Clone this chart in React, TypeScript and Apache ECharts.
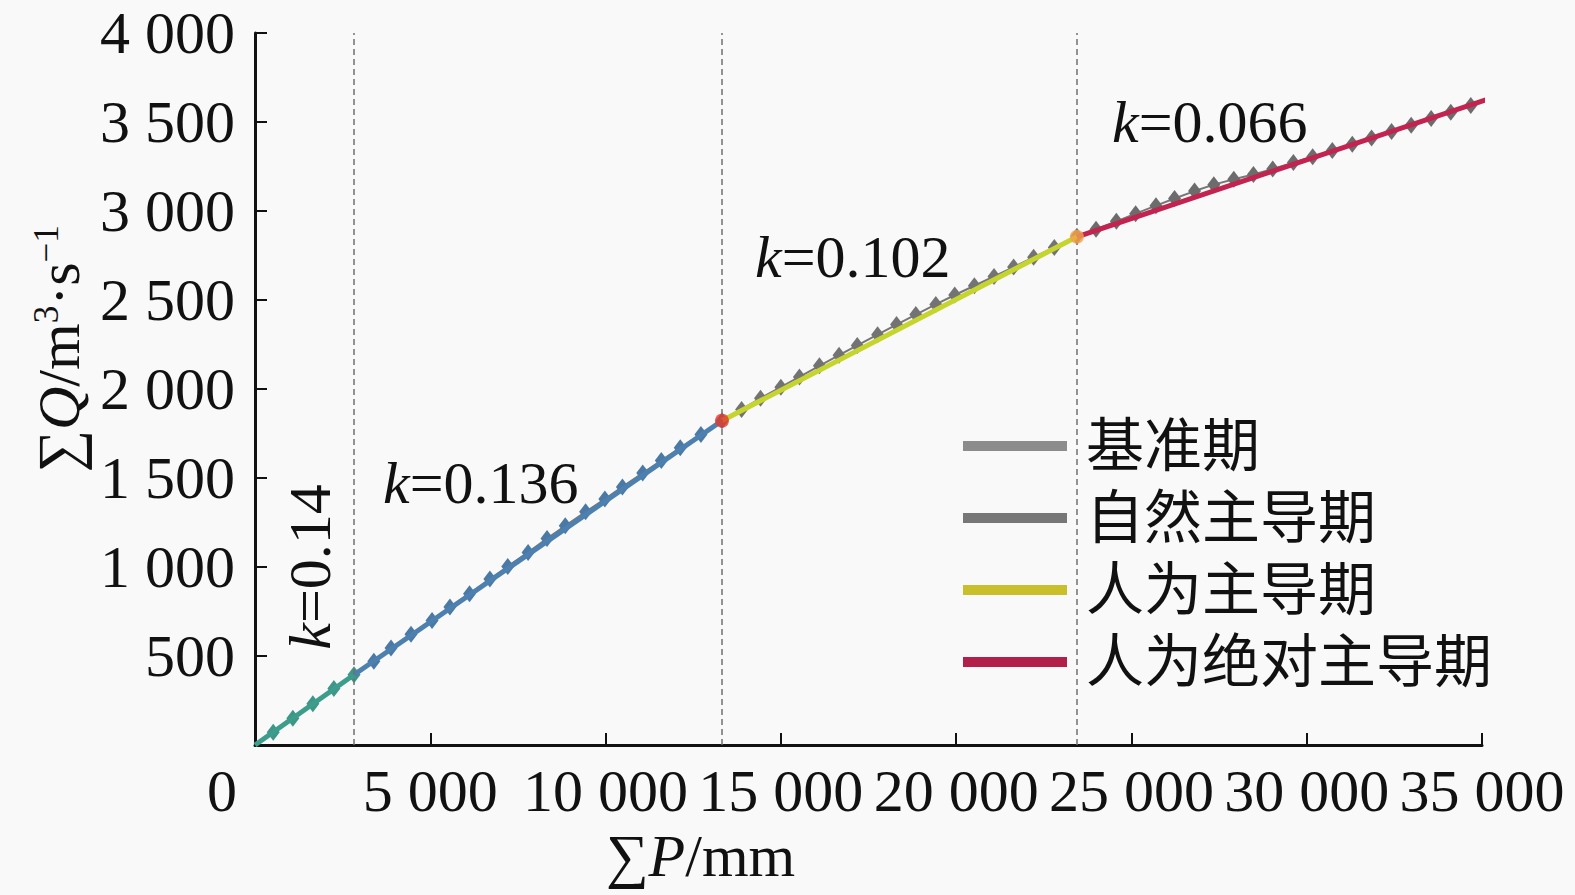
import React, { useEffect, useRef } from 'react';
import * as echarts from 'echarts';

// Legend / period names
const PERIOD_NAMES = ['基准期', '自然主导期', '人为主导期', '人为绝对主导期'];

// Observed cumulative precipitation (∑P, mm) and runoff (∑Q, m³/s) per period
const P1 = [520, 1080, 1650, 2250, 2824];
const Q1 = [72, 150, 232, 318, 395];

const P2 = [3390, 3880, 4450, 5050, 5560, 6120, 6700, 7210, 7790, 8330, 8850, 9430, 9980, 10480, 11060, 11590, 12130, 12720, 13320];
const Q2 = [470, 545, 622, 700, 775, 850, 932, 1003, 1082, 1160, 1232, 1310, 1382, 1450, 1528, 1598, 1670, 1745, 1822];

const P3 = [13880, 14420, 15000, 15530, 16100, 16660, 17180, 17760, 18300, 18850, 19420, 19960, 20520, 21080, 21640, 22210, 22800, 23445];
const Q3 = [1885, 1948, 2010, 2068, 2130, 2190, 2245, 2305, 2362, 2418, 2475, 2528, 2580, 2632, 2685, 2740, 2795, 2858];

const P4 = [23990, 24570, 25120, 25700, 26230, 26800, 27350, 27920, 28480, 29030, 29620, 30170, 30730, 31300, 31850, 32420, 32980, 33550, 34110, 34680, 35240, 35800];
const Q4 = [2898, 2942, 2985, 3030, 3070, 3112, 3148, 3178, 3205, 3236, 3272, 3305, 3340, 3375, 3410, 3446, 3482, 3520, 3555, 3592, 3630, 3668];

// Fitted segment endpoints (breakpoints)
const BREAK_P = [0, 2824, 13320, 23445, 35800];
const BREAK_Q = [0, 395, 1822, 2855, 3670];

// Slopes shown as annotations
const K_VALUES = ['0.14', '0.136', '0.102', '0.066'];

// Axis settings
const X_MIN = 0, X_MAX = 35000, X_STEP = 5000;
const Y_MIN = 0, Y_MAX = 4000, Y_STEP = 500;

const FIT_COLORS = ['#3c9d8c', '#4d80ae', '#c6d42e', '#c3234f'];
const LEGEND_COLORS = ['#8c8c8c', '#777777', '#c9bf2a', '#b21f48'];
const MARKER_COLORS = ['#3f9686', '#4a79a6', '#737373', '#6c6c6c'];
const BREAK_COLORS = ['#e5392b', '#f2a24a'];

const SERIF = "'Liberation Serif', 'Times New Roman', serif";
const CJK = "'Liberation Serif', 'Noto Sans CJK SC', serif";
const FS = 60;

const fmt = (v: number) => String(v).replace(/\B(?=(\d{3})+(?!\d))/g, ' ');

export default function App() {
  const ref = useRef<HTMLDivElement>(null);

  useEffect(() => {
    document.body.style.background = '#f9f9f9';
    const chart = echarts.init(ref.current!, null, { renderer: 'svg' });

    const groups = [[P1, Q1], [P2, Q2], [P3, Q3], [P4, Q4]];
    const obs: number[][] = [];
    const periodOf: number[] = [];
    groups.forEach(([ps, qs], g) => {
      ps.forEach((p, i) => {
        obs.push([p, qs[i]]);
        periodOf.push(g);
      });
    });

    const fitSeries = PERIOD_NAMES.map((name, i) => ({
      name,
      type: 'line',
      data: [
        [BREAK_P[i], BREAK_Q[i]],
        [BREAK_P[i + 1], BREAK_Q[i + 1]],
      ],
      symbol: 'none',
      lineStyle: { color: FIT_COLORS[i], width: 5 },
      itemStyle: { color: FIT_COLORS[i] },
      z: 4,
      silent: true,
    }));

    const kText = (k: string) => `{i|k}{n|=${k}}`;
    const kRich = {
      i: { fontFamily: SERIF, fontSize: FS, fontStyle: 'italic', fill: '#111' },
      n: { fontFamily: SERIF, fontSize: FS, fill: '#111' },
    };

    const option: any = {
      animation: false,
      backgroundColor: '#f9f9f9',
      grid: { left: 255, top: 33, width: 1227, height: 712, containLabel: false },
      xAxis: {
        type: 'value',
        min: X_MIN,
        max: X_MAX,
        interval: X_STEP,
        name: '{s|∑}{i|P}{n|/mm}',
        nameLocation: 'middle',
        nameGap: 68,
        nameTextStyle: {
          padding: [0, 336, 0, 0],
          rich: {
            s: { fontFamily: SERIF, fontSize: FS, color: '#111' },
            i: { fontFamily: SERIF, fontSize: FS, fontStyle: 'italic', color: '#111' },
            n: { fontFamily: SERIF, fontSize: FS, color: '#111' },
          },
        },
        axisLine: { show: true, lineStyle: { color: '#111', width: 3 } },
        axisTick: { show: true, inside: true, length: 12, lineStyle: { color: '#111', width: 2 } },
        axisLabel: {
          margin: 16,
          fontFamily: SERIF,
          fontSize: FS,
          color: '#111',
          formatter: (v: number) => (v === 0 ? '{z|0}' : fmt(v)),
          rich: { z: { fontFamily: SERIF, fontSize: FS, color: '#111', padding: [0, 66, 0, 0] } },
        },
        splitLine: { show: false },
      },
      yAxis: {
        type: 'value',
        min: Y_MIN,
        max: Y_MAX,
        interval: Y_STEP,
        name: '{s|∑}{i|Q}{n|/m}{sup|3}{n|·s}{sup|−1}',
        nameLocation: 'middle',
        nameGap: 160,
        nameTextStyle: {
          padding: [0, 0, 0, 80],
          rich: {
            s: { fontFamily: SERIF, fontSize: FS, color: '#111' },
            i: { fontFamily: SERIF, fontSize: FS, fontStyle: 'italic', color: '#111' },
            n: { fontFamily: SERIF, fontSize: FS, color: '#111' },
            sup: { fontFamily: SERIF, fontSize: 35, color: '#111', verticalAlign: 'top' },
          },
        },
        axisLine: { show: true, lineStyle: { color: '#111', width: 3 } },
        axisTick: { show: true, inside: true, length: 12, lineStyle: { color: '#111', width: 2 } },
        axisLabel: {
          margin: 20,
          fontFamily: SERIF,
          fontSize: FS,
          color: '#111',
          formatter: (v: number) => (v === 0 ? '' : fmt(v)),
        },
        splitLine: { show: false },
      },
      legend: {
        orient: 'vertical',
        left: 958,
        top: 409,
        itemWidth: 104,
        itemHeight: 10,
        itemGap: 8,
        selectedMode: false,
        textStyle: { fontFamily: CJK, fontSize: 58, color: '#111', lineHeight: 64, padding: [0, 0, 0, 14] },
        data: PERIOD_NAMES.map((name, i) => ({
          name,
          icon: 'rect',
          itemStyle: { color: LEGEND_COLORS[i] },
          lineStyle: { color: LEGEND_COLORS[i], width: 5 },
        })),
      },
      series: [
        {
          name: '实测',
          type: 'line',
          data: obs,
          symbol: 'diamond',
          symbolSize: [13, 17],
          showAllSymbol: true,
          lineStyle: { color: '#777', width: 2 },
          itemStyle: { color: (p: any) => MARKER_COLORS[periodOf[p.dataIndex]] },
          z: 3,
          silent: true,
          markLine: {
            silent: true,
            symbol: 'none',
            label: { show: false },
            lineStyle: { color: '#707070', width: 1.5, type: [6, 4] },
            data: BREAK_P.slice(1, 4).map((p) => ({ xAxis: p })),
          },
        },
        ...fitSeries,
        {
          name: '转折点',
          type: 'scatter',
          data: BREAK_P.slice(2, 4).map((p, i) => [p, BREAK_Q[i + 2]]),
          symbol: 'circle',
          symbolSize: 14,
          itemStyle: { color: (p: any) => BREAK_COLORS[p.dataIndex] },
          z: 5,
          silent: true,
        },
      ],
      graphic: [
        {
          type: 'text',
          x: 310,
          y: 567,
          rotation: Math.PI / 2,
          style: { text: kText(K_VALUES[0]), rich: kRich, align: 'center', verticalAlign: 'middle' },
          silent: true,
        },
        {
          type: 'text',
          x: 383,
          y: 483,
          style: { text: kText(K_VALUES[1]), rich: kRich, align: 'left', verticalAlign: 'middle' },
          silent: true,
        },
        {
          type: 'text',
          x: 755,
          y: 257,
          style: { text: kText(K_VALUES[2]), rich: kRich, align: 'left', verticalAlign: 'middle' },
          silent: true,
        },
        {
          type: 'text',
          x: 1112,
          y: 122,
          style: { text: kText(K_VALUES[3]), rich: kRich, align: 'left', verticalAlign: 'middle' },
          silent: true,
        },
      ],
    };

    chart.setOption(option);
    return () => chart.dispose();
  }, []);

  return <div ref={ref} style={{ position: 'absolute', left: 0, top: 0, width: 1575, height: 895 }} />;
}
